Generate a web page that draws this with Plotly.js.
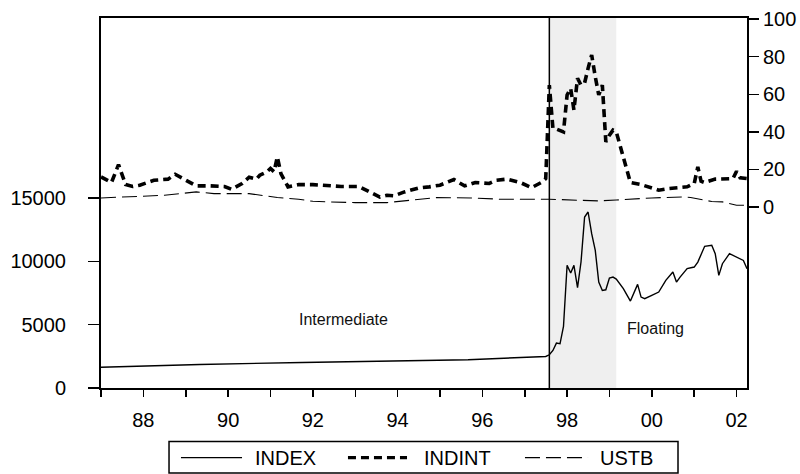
<!DOCTYPE html>
<html><head><meta charset="utf-8">
<script src="https://cdn.plot.ly/plotly-3.0.1.min.js"></script>
<style>html,body{margin:0;padding:0;background:#fff}</style>
</head><body><div id="chart" style="width:800px;height:474px"></div>
<script>
// INDEX (left axis)
const indexDates = ['1987-01','1989-05','1991-10','1994-02','1995-09','1997-07','1997-08','1997-09','1997-10','1997-11','1997-12',
 '1998-01','1998-02','1998-03','1998-04','1998-05','1998-06','1998-07','1998-08','1998-09','1998-10','1998-11','1998-12',
 '1999-01','1999-02','1999-03','1999-05','1999-07','1999-09','1999-10','1999-11','2000-01','2000-03','2000-05','2000-07','2000-08','2000-09',
 '2000-11','2001-01','2001-02','2001-04','2001-06','2001-07','2001-08','2001-09','2001-11','2002-01','2002-03','2002-04'];
const indexValues = [1643,1857,2015,2130,2228,2488,2620,2962,3540,3490,4858,
 9677,9070,9677,7915,9940,13495,13890,12180,10860,8360,7700,7750,
 8674,8755,8600,7840,6860,8180,7175,7045,7310,7570,8490,9150,8360,8755,
 9420,9545,9940,11180,11260,10600,8890,9810,10600,10330,10070,9420];

// INDINT (right axis)
const indintDates = ['1987-01','1987-04','1987-06','1987-08','1987-10','1987-12','1988-04','1988-08','1988-10','1989-01','1989-04','1989-08',
 '1989-12','1990-02','1990-05','1990-07','1990-09','1990-10','1990-12','1991-01','1991-02','1991-03','1991-04','1991-06','1991-09',
 '1992-01','1992-05','1992-09','1993-02','1993-05','1993-08','1993-10','1993-12','1994-03','1994-07','1994-10','1995-01','1995-05',
 '1995-08','1995-11','1996-03','1996-05','1996-08','1996-12','1997-03','1997-06','1997-07','1997-08','1997-09','1997-10','1997-11',
 '1997-12','1998-01','1998-02','1998-03','1998-04','1998-05','1998-06','1998-07','1998-08','1998-09','1998-10','1998-11','1998-12',
 '1999-01','1999-02','1999-03','1999-04','1999-05','1999-06','1999-07','1999-10','1999-12','2000-03','2000-06','2000-08','2000-11',
 '2001-01','2001-02','2001-03','2001-04','2001-07','2001-10','2001-12','2002-01','2002-02','2002-04'];
const indintValues = [16.0,13.0,22.5,11.9,10.9,11.6,14.2,14.8,17.4,14.2,11.2,11.2,
 10.9,9.4,12.5,15.8,14.8,16.9,18.7,20.5,18.7,26.7,17.8,10.7,11.9,
 11.9,11.2,10.9,10.9,8.0,5.3,6.2,5.9,8.0,10.1,10.7,11.6,14.6,
 11.2,13.0,12.5,14.2,14.8,12.8,10.3,13.3,15.1,64.9,41.8,41.5,40.9,
 40.0,59.6,63.1,51.6,68.5,64.9,66.0,73.8,80.9,69.3,59.6,64.9,34.7,
 38.2,40.9,40.0,33,25,18,13,11.9,10.7,8.9,9.8,10.1,10.7,
 12.5,21.3,13.7,13.0,14.8,15.1,15.1,19.0,15.5,15.1];

// USTB (right axis)
const ustbDates = ['1987-01','1987-10','1988-07','1989-04','1989-09','1990-07','1990-11','1991-03','1991-09','1992-01','1992-05',
 '1993-01','1993-10','1994-04','1994-12','1995-10','1996-06','1997-08','1998-10','1999-03','2000-01','2000-10','2000-12',
 '2001-06','2001-09','2002-01','2002-04'];
const ustbValues = [4.8,5.3,6.2,8.0,7.1,7.1,6.2,5.0,4.1,3.0,2.7,
 2.3,2.3,3.6,5.0,4.8,4.1,4.1,3.2,3.7,4.8,5.3,5.0,
 2.9,2.7,0.9,0.9];

const seriesNames = ['INDEX','INDINT','USTB'];
const yearTicks = ['1987','1988','1989','1990','1991','1992','1993','1994','1995','1996','1997','1998','1999','2000','2001','2002'];
const yearLabels = ['','88','','90','','92','','94','','96','','98','','00','','02'];
const leftTicks = [0,5000,10000,15000];
const leftLabels = ['0','5000','10000','15000'];
const rightTicks = [0,20,40,60,80,100];
const regimeLabels = ['Intermediate','Floating'];

const FAM = 'Arial, Liberation Sans, sans-serif';
const font = {family:FAM, size:20, color:'#000'};

const styles = [
 {color:'#000', width:1.4},
 {color:'#000', width:3.6, dash:'8px,5px'},
 {color:'#000', width:1.1, dash:'15px,6px'}
];

const traces = [
 {x:indexDates, y:indexValues, name:seriesNames[0], type:'scatter', mode:'lines', yaxis:'y', line:styles[0]},
 {x:indintDates, y:indintValues, name:seriesNames[1], type:'scatter', mode:'lines', yaxis:'y2', line:styles[1]},
 {x:ustbDates, y:ustbValues, name:seriesNames[2], type:'scatter', mode:'lines', yaxis:'y2', line:styles[2]}
];

// legend drawn as a boxed row under the plot (paper coordinates)
const legY = -0.1881;
const legSamples = [[0.1238,0.2183],[0.3823,0.4737],[0.6563,0.7539]];
const legText = [0.2353,0.4964,0.7689];
const legendShapes = [
 {type:'rect', xref:'paper', yref:'paper', x0:0.1053, x1:0.8932, y0:-0.2300, y1:-0.1448,
  line:{color:'#000', width:1.5}, fillcolor:'#fff'}
];
const legendAnn = [];
seriesNames.forEach((n,i)=>{
 legendShapes.push({type:'line', xref:'paper', yref:'paper', x0:legSamples[i][0], x1:legSamples[i][1], y0:legY, y1:legY,
   line:Object.assign({}, styles[i], {width: i===1 ? 3.4 : styles[i].width})});
 legendAnn.push({text:n, xref:'paper', yref:'paper', x:legText[i], y:legY, xanchor:'left', yanchor:'middle',
   showarrow:false, font:{family:FAM, size:20, color:'#000'}});
});

const layout = {
 width:800, height:474,
 margin:{l:101, r:53, t:18, b:86, pad:0, autoexpand:false},
 paper_bgcolor:'#fff', plot_bgcolor:'rgba(0,0,0,0)',
 font:font,
 showlegend:false,
 xaxis:{type:'date', range:['1987-01-01','2002-04-01'], tickvals:yearTicks, ticktext:yearLabels,
  ticks:'outside', ticklen:7, tickwidth:1.5, tickcolor:'#000', showline:true, linewidth:2, linecolor:'#000',
  mirror:true, showgrid:false, zeroline:false, tickfont:font, ticklabelstandoff:6},
 yaxis:{range:[0,29200], tickvals:leftTicks, ticktext:leftLabels, ticks:'outside', ticklen:11, tickwidth:1.5, tickcolor:'#000',
  showline:true, linewidth:2, linecolor:'#000', mirror:true, showgrid:false, zeroline:false, tickfont:font,
  ticklabelstandoff:18},
 yaxis2:{range:[-96.4,100.6], overlaying:'y', side:'right', tickvals:rightTicks, ticks:'outside', ticklen:10,
  tickwidth:1.5, tickcolor:'#000', showline:true, linewidth:2, linecolor:'#000', showgrid:false, zeroline:false,
  tickfont:font},
 shapes:[
  {type:'rect', xref:'x', yref:'paper', x0:'1997-08-01', x1:'1999-03-01', y0:0, y1:1,
   fillcolor:'#efefef', line:{width:0}, layer:'below'},
  {type:'line', xref:'x', yref:'paper', x0:'1997-08-01', x1:'1997-08-01', y0:0, y1:1,
   line:{color:'#000', width:1.5}}
 ].concat(legendShapes),
 annotations:[
  {text:regimeLabels[0], xref:'x', yref:'y', x:'1992-09-20', y:5410, showarrow:false,
   font:{family:FAM, size:16, color:'#111'}},
  {text:regimeLabels[1], xref:'x', yref:'y', x:'2000-02-05', y:4677, showarrow:false,
   font:{family:FAM, size:16, color:'#111'}}
 ].concat(legendAnn)
};

Plotly.newPlot('chart', traces, layout, {staticPlot:true, displayModeBar:false});
</script>
</body></html>
